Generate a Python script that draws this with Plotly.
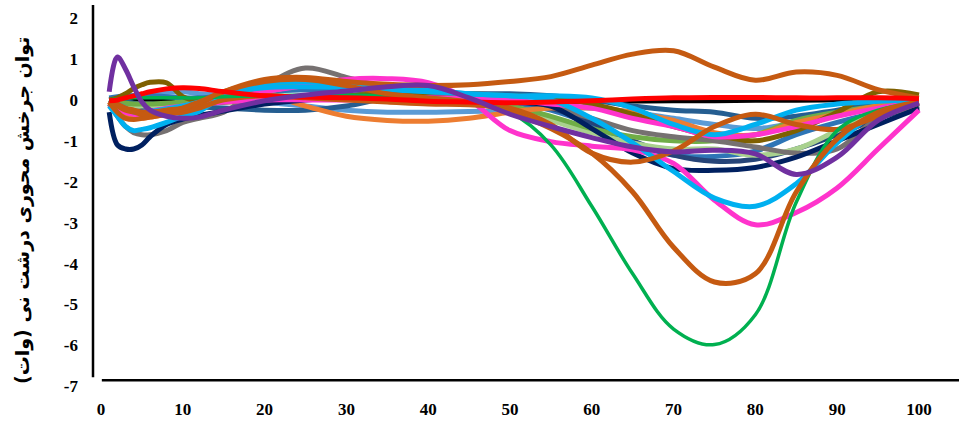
import plotly.graph_objects as go

x_pct = [1, 2, 3, 4, 5, 6, 8, 10, 12, 15, 20, 25, 30, 35, 40, 45, 50, 55, 60, 65, 70, 75, 80, 85, 90, 95, 100]

black = [0.0, 0.0, 0.0, 0.0, 0.0, 0.0, 0.0, 0.0, 0.0, 0.0, 0.0, 0.0, 0.0, 0.0, -0.02, -0.03, -0.04, -0.05, -0.05, -0.04, -0.03, -0.03, -0.02, -0.02, -0.01, 0.0, 0.0]
light_blue = [0.0, 0.05, 0.08, 0.1, 0.12, 0.15, 0.18, 0.2, 0.15, 0.1, -0.05, -0.15, -0.25, -0.3, -0.3, -0.28, -0.25, -0.2, -0.2, -0.3, -0.45, -0.6, -0.7, -0.55, -0.35, -0.2, -0.1]
dark_blue = [0.0, -0.03, -0.05, -0.08, -0.1, -0.1, -0.12, -0.15, -0.17, -0.2, -0.25, -0.25, -0.15, 0.05, 0.17, 0.15, 0.15, 0.1, 0.0, -0.15, -0.25, -0.3, -0.45, -0.4, -0.25, -0.1, -0.05]
steel_blue = [0.05, 0.08, 0.1, 0.1, 0.1, 0.1, 0.08, 0.05, 0.05, 0.1, 0.2, 0.25, 0.25, 0.2, 0.15, 0.1, -0.05, -0.25, -0.6, -1.05, -1.35, -1.38, -1.25, -0.85, -0.55, -0.3, -0.1]
slate_blue = [-0.05, -0.1, -0.15, -0.2, -0.2, -0.2, -0.18, -0.15, -0.1, -0.05, 0.0, 0.05, 0.1, 0.15, 0.15, 0.1, 0.0, -0.2, -0.55, -1.0, -1.35, -1.5, -1.45, -1.2, -0.85, -0.45, -0.15]
pale_green = [0.0, -0.05, -0.1, -0.15, -0.15, -0.15, -0.12, -0.1, -0.05, 0.0, 0.2, 0.35, 0.3, 0.2, 0.1, 0.0, -0.2, -0.5, -0.8, -1.05, -1.2, -1.2, -1.35, -1.2, -0.75, -0.3, -0.05]
light_green = [0.0, -0.05, -0.08, -0.1, -0.1, -0.1, -0.08, -0.05, 0.0, 0.1, 0.3, 0.4, 0.3, 0.15, 0.05, 0.0, -0.15, -0.4, -0.7, -0.9, -1.0, -1.0, -0.85, -0.5, -0.3, -0.15, -0.05]
light_orange = [-0.1, -0.25, -0.35, -0.42, -0.45, -0.42, -0.35, -0.25, -0.1, 0.1, 0.12, -0.15, -0.4, -0.5, -0.52, -0.45, -0.3, -0.2, -0.2, -0.3, -0.5, -0.8, -0.85, -0.55, -0.35, -0.15, -0.05]
olive = [0.0, 0.05, 0.15, 0.28, 0.37, 0.43, 0.42, 0.08, -0.03, -0.05, 0.0, 0.05, 0.1, 0.15, 0.15, 0.15, 0.1, 0.05, -0.1, -0.35, -0.65, -0.9, -1.0, -0.75, -0.3, 0.2, 0.12]
gray = [-0.1, -0.4, -0.65, -0.8, -0.85, -0.85, -0.75, -0.55, -0.45, -0.3, 0.35, 0.78, 0.55, 0.3, 0.2, 0.1, 0.0, -0.15, -0.45, -0.75, -0.9, -1.0, -1.15, -1.3, -1.2, -0.45, -0.15]
navy = [-0.3, -1.1, -1.2, -1.2, -1.1, -0.9, -0.6, -0.47, -0.38, -0.27, -0.1, 0.0, 0.05, 0.05, 0.05, 0.0, -0.05, -0.15, -0.7, -1.3, -1.68, -1.72, -1.65, -1.4, -1.0, -0.6, -0.2]
magenta_b = [-0.1, -0.2, -0.3, -0.35, -0.35, -0.33, -0.28, -0.2, -0.12, -0.05, 0.0, 0.0, 0.0, 0.02, 0.05, 0.03, 0.0, -0.1, -0.2, -0.45, -0.65, -0.9, -0.85, -0.65, -0.4, -0.2, -0.05]
magenta_a = [-0.05, -0.2, -0.3, -0.32, -0.3, -0.28, -0.2, -0.15, -0.08, 0.0, 0.2, 0.35, 0.5, 0.52, 0.42, 0.0, -0.75, -1.02, -1.13, -1.22, -1.55, -2.45, -3.05, -2.75, -2.15, -1.2, -0.25]
cyan_b = [0.0, -0.1, -0.2, -0.3, -0.3, -0.28, -0.22, -0.15, -0.05, 0.15, 0.3, 0.32, 0.3, 0.25, 0.2, 0.15, 0.1, 0.1, 0.05, -0.2, -0.6, -0.85, -0.6, -0.25, -0.1, -0.03, 0.0]
cyan_a = [-0.15, -0.4, -0.65, -0.75, -0.72, -0.68, -0.55, -0.4, -0.28, 0.1, 0.4, 0.45, 0.35, 0.3, 0.25, 0.15, 0.1, 0.0, -0.45, -1.05, -1.75, -2.4, -2.6, -2.05, -1.05, -0.3, -0.05]
brown_z = [-0.05, -0.3, -0.45, -0.48, -0.45, -0.42, -0.35, -0.3, -0.2, 0.0, 0.1, 0.05, 0.0, -0.05, -0.1, -0.12, -0.2, -0.6, -1.3, -1.52, -1.25, -0.65, -0.35, -0.6, -0.72, -0.4, -0.08]
brown_top = [0.0, -0.1, -0.2, -0.25, -0.3, -0.3, -0.25, -0.2, -0.1, 0.2, 0.5, 0.55, 0.45, 0.38, 0.35, 0.37, 0.45, 0.57, 0.85, 1.12, 1.2, 0.8, 0.48, 0.68, 0.6, 0.25, 0.05]
brown_deep = [-0.05, -0.15, -0.25, -0.3, -0.35, -0.35, -0.3, -0.2, -0.05, 0.2, 0.45, 0.5, 0.35, 0.15, 0.05, -0.05, -0.3, -0.7, -1.3, -2.25, -3.6, -4.45, -4.25, -2.25, -0.95, -0.3, -0.05]
green = [0.0, 0.02, 0.03, 0.05, 0.05, 0.05, 0.05, 0.05, 0.05, 0.08, 0.1, 0.12, 0.12, 0.1, 0.05, -0.05, -0.3, -1.1, -2.6, -4.25, -5.6, -5.98, -5.25, -2.5, -0.75, -0.25, -0.1]
red = [-0.02, 0.0, 0.05, 0.1, 0.15, 0.2, 0.27, 0.3, 0.28, 0.2, 0.1, 0.07, 0.05, 0.02, -0.03, -0.05, -0.07, -0.05, -0.02, 0.02, 0.05, 0.06, 0.06, 0.05, 0.05, 0.05, 0.03]
purple = [0.2, 1.05, 0.75, 0.32, -0.05, -0.25, -0.4, -0.45, -0.42, -0.25, -0.02, 0.12, 0.22, 0.32, 0.35, 0.05, -0.35, -0.65, -0.92, -1.15, -1.27, -1.23, -1.32, -1.82, -1.4, -0.5, -0.08]

y_ticks = [2, 1, 0, -1, -2, -3, -4, -5, -6, -7]
x_ticks = [0, 10, 20, 30, 40, 50, 60, 70, 80, 90, 100]
y_title = "توان جرخش محوری درشت نی (وات)"

series = [
    (black, "#000000", 4),
    (light_blue, "#5B9BD5", 5),
    (dark_blue, "#255E91", 5),
    (steel_blue, "#2E75B6", 5),
    (slate_blue, "#264478", 5),
    (pale_green, "#A9D18E", 5),
    (light_green, "#70AD47", 5),
    (light_orange, "#ED7D31", 5),
    (olive, "#7F6000", 5),
    (gray, "#767171", 5),
    (navy, "#002060", 5),
    (magenta_b, "#FF33CC", 5),
    (magenta_a, "#FF33CC", 5),
    (cyan_b, "#00B0F0", 5),
    (cyan_a, "#00B0F0", 5),
    (brown_z, "#C55A11", 5),
    (brown_top, "#C55A11", 5),
    (green, "#00B050", 3.5),
    (brown_deep, "#C55A11", 5),
    (red, "#FF0000", 5),
    (purple, "#7030A0", 5),
]

fig = go.Figure()
for vals, col, w in series:
    fig.add_trace(go.Scatter(x=x_pct, y=vals, mode="lines",
                             line=dict(color=col, width=w, shape="spline", smoothing=1.0),
                             showlegend=False, hoverinfo="skip"))

tick_font = dict(family="Liberation Serif, Times New Roman, serif", size=17, color="#000000", weight="bold")

fig.update_layout(
    width=959, height=424,
    margin=dict(l=93, r=0, t=5, b=34),
    paper_bgcolor="white", plot_bgcolor="white",
    xaxis=dict(range=[-0.98, 104.9], tickvals=x_ticks, ticktext=[str(v) for v in x_ticks],
               showgrid=False, zeroline=False, showline=False, ticks="",
               tickfont=tick_font, ticklabelstandoff=7, automargin=False),
    yaxis=dict(range=[-7.09, 2.32], tickvals=y_ticks, ticktext=[str(v) for v in y_ticks],
               showgrid=False, zeroline=False, showline=False, ticks="",
               tickfont=tick_font, ticklabelstandoff=14, automargin=False),
    shapes=[
        dict(type="line", xref="paper", yref="y", x0=0, x1=0, y0=-6.78, y1=2.32,
             line=dict(color="black", width=2.5)),
        dict(type="line", xref="x", yref="y", x0=0.1, x1=104.9, y0=-6.85, y1=-6.85,
             line=dict(color="black", width=2.5)),
    ],
    annotations=[
        dict(text=y_title, textangle=-90, xref="paper", yref="paper",
             x=-0.082, y=0.4675, xanchor="center", yanchor="middle", showarrow=False,
             font=dict(family="DejaVu Sans, Noto Sans, sans-serif", size=19, color="#000000", weight="bold")),
    ],
)

fig.write_html("out.html", config={"displayModeBar": False},
               post_script="document.body.style.margin='0';document.body.style.overflow='hidden';")
